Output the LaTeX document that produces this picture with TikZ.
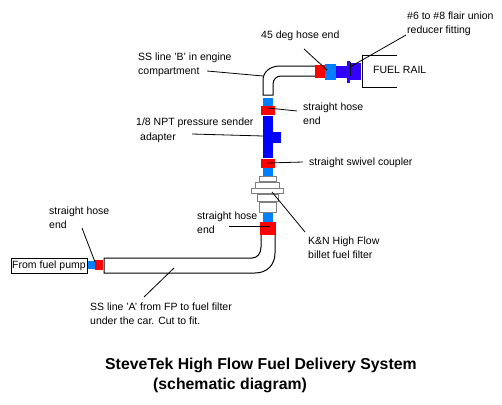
\documentclass[tikz,border=0pt]{standalone}
\usepackage{fontspec}
\setmainfont{Liberation Sans}
\definecolor{hred}{RGB}{255,0,0}
\definecolor{hblue}{RGB}{0,128,255}
\definecolor{dblue}{RGB}{0,0,255}
\definecolor{pblue}{RGB}{51,0,255}
\definecolor{fgray}{RGB}{128,128,128}
\tikzset{
  x=1pt,y=-1pt,
  filt/.style={draw=fgray,fill=white,line width=1pt},
  hose/.style={draw=black,line width=1pt},
  lead/.style={draw=black,line width=0.8pt},
  lab/.style={anchor=north west,inner sep=0pt,align=left,font=\fontsize{10.5}{13.5}\selectfont},
  ttl/.style={anchor=north west,inner sep=0pt,align=left,font=\fontsize{15.8}{19.5}\selectfont\bfseries}
}
\begin{document}
\begin{tikzpicture}
\useasboundingbox (0,0) rectangle (502,404);
% hoses
\draw[hose] (315,66) -- (280,66) .. controls (270,66) and (263,72) .. (263,80) -- (263,95) -- (273,95) -- (273,84) .. controls (273,79) and (277,76) .. (281,76) -- (315,76);
\draw[hose] (261,235) -- (261,247) .. controls (261,254) and (257,258) .. (252,258) -- (104,258) -- (104,273) -- (255,273) .. controls (267,273) and (275,265) .. (275,253) -- (275,235);
% fittings
\fill[hred] (315,65) rectangle (325,78);
\fill[hblue] (325,64) rectangle (336,80);
\fill[pblue] (336,66) rectangle (347,78);
\fill[pblue] (347,61) rectangle (350,83);
\fill[pblue] (350,63) rectangle (361,80);
\fill[hblue] (263,98) rectangle (273,106);
\fill[hred] (261,106) rectangle (275,115);
\fill[dblue] (263,116) rectangle (273,158);
\fill[dblue] (273,132) rectangle (281,143);
\fill[hred] (261,159) rectangle (275,168);
\fill[hblue] (263,168) rectangle (273,176);
\draw[filt] (259.5,176.5) rectangle (276.5,181.5);
\draw[filt] (255.5,182) rectangle (279.5,188);
\draw[filt] (251.5,188.5) rectangle (283.5,193);
\draw[filt] (257,194) rectangle (278,201);
\draw[filt] (259.5,202) rectangle (276.5,212);
\fill[hblue] (263,212.5) rectangle (273,222);
\fill[hred] (260,222) rectangle (276,235);
\fill[hblue] (88,261) rectangle (95,269);
\fill[hred] (95,260) rectangle (103,270);
% fuel rail
\draw[hose] (397,55) -- (362,55) -- (362,87) -- (397,87);
\node[lab] (rail) at (373,66) {FUEL RAIL};
\node[draw=black,line width=1pt,minimum width=76pt,minimum height=15pt,inner sep=0pt,font=\fontsize{10.5}{13}\selectfont] (pump) at (49,265.5) {From fuel pump};
% labels
\node[lab] (l45) at (261,31) {45 deg hose end};
\node[lab] (l6) at (407,12) {\#6 to \#8 flair union\\reducer fitting};
\node[lab] (lb) at (138,53) {SS line 'B' in engine\\compartment};
\node[lab] (ls1) at (303,103) {straight hose\\end};
\node[lab,font=\fontsize{10.5}{15}\selectfont] (lnpt) at (136,118) {1/8 NPT pressure sender\\\hspace*{4pt}adapter};
\node[lab] (lsw) at (309,158) {straight swivel coupler};
\node[lab] (ls2) at (197,212) {straight hose\\end};
\node[lab] (ls3) at (49,207) {straight hose\\end};
\node[lab] (lkn) at (308,237) {K\&N High Flow\\billet fuel filter};
\node[lab] (la) at (90,303) {SS line 'A' from FP to fuel filter\\under the car. Cut to fit.};
\node[ttl] (t) at (105,358) {SteveTek High Flow Fuel Delivery System\\\hspace*{48pt}(schematic diagram)};
% leaders
\coordinate (c45) at (327,70);
\coordinate (c6) at (350,67);
\coordinate (cb) at (263,76);
\coordinate (cs1) at (268,108);
\coordinate (cn) at (263,136);
\coordinate (csw) at (267,163);
\coordinate (ckn) at (272,192);
\coordinate (cs2) at (270,226);
\coordinate (cs3) at (95,262);
\coordinate (ca) at (174,268);
\draw[lead] (304,49) -- (c45);
\draw[lead] (406,35) -- (c6);
\draw[lead] (350,62) -- (350,76);
\draw[lead] (207,71) -- (cb);
\draw[lead] (297,111) -- (cs1);
\draw[lead] (192,134) -- (cn);
\draw[lead] (303,162) -- (csw);
\draw[lead] (305,232) -- (ckn);
\draw[lead] (229,226) -- (cs2);
\draw[lead] (82,228) -- (cs3);
\draw[lead] (144,297) -- (ca);
\end{tikzpicture}
\end{document}
